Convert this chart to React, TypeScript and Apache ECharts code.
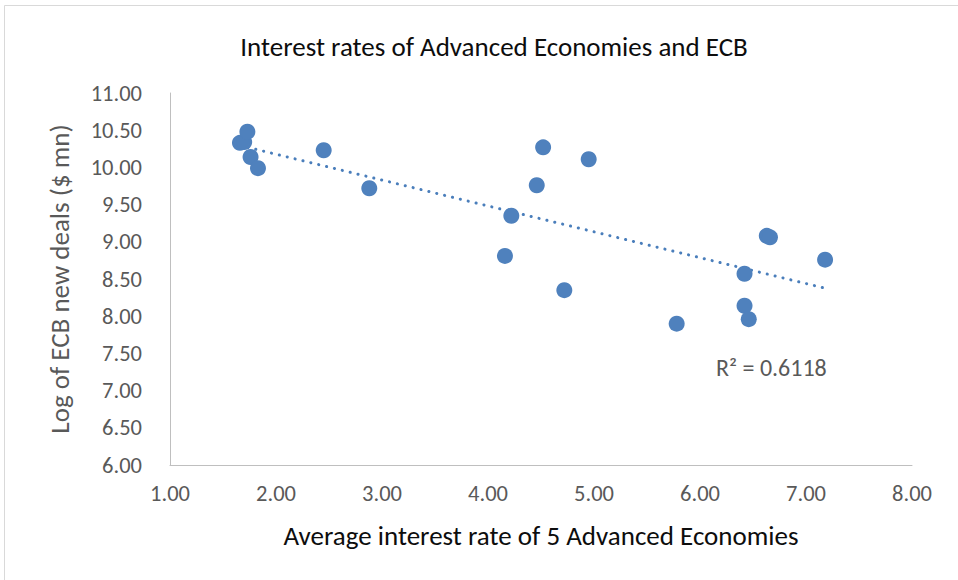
import React, { useEffect, useRef } from "react";
import * as echarts from "echarts";

const xValues = [1.66, 1.70, 1.73, 1.76, 1.83, 2.45, 2.88, 4.52, 4.95, 4.46, 4.22, 4.16, 4.72, 5.78, 6.42, 6.42, 6.46, 6.63, 6.66, 7.18];
const yValues = [10.33, 10.34, 10.48, 10.14, 9.99, 10.23, 9.72, 10.27, 10.11, 9.76, 9.35, 8.81, 8.35, 7.90, 8.57, 8.14, 7.96, 9.08, 9.06, 8.76];
const rSquaredLabel = "R² = 0.6118";
const chartTitle = "Interest rates of Advanced Economies and ECB";
const xAxisTitle = "Average interest rate of 5 Advanced Economies";
const yAxisTitle = "Log of ECB new deals ($ mn)";

const FONT = "Carlito, 'Liberation Sans Narrow', 'Open Sans', sans-serif";

function regression(xs: number[], ys: number[]) {
  const n = xs.length;
  const mx = xs.reduce((a, b) => a + b, 0) / n;
  const my = ys.reduce((a, b) => a + b, 0) / n;
  let sxy = 0, sxx = 0;
  for (let i = 0; i < n; i++) {
    sxy += (xs[i] - mx) * (ys[i] - my);
    sxx += (xs[i] - mx) * (xs[i] - mx);
  }
  const slope = sxy / sxx;
  return { slope, intercept: my - slope * mx };
}

export default function App() {
  const ref = useRef<HTMLDivElement>(null);
  useEffect(() => {
    if (!ref.current) return;
    const chart = echarts.init(ref.current, undefined, { renderer: "svg" });
    const { slope, intercept } = regression(xValues, yValues);
    const xmin = Math.min(...xValues);
    const xmax = Math.max(...xValues);
    const trend = [
      [xmin, intercept + slope * xmin],
      [xmax, intercept + slope * xmax],
    ];
    chart.setOption({
      animation: false,
      backgroundColor: "#ffffff",
      title: {
        text: chartTitle,
        left: 489,
        textAlign: "center",
        top: 28,
        textStyle: { fontFamily: FONT, fontSize: 27, fontWeight: "normal", color: "#0d0d0d" },
      },
      graphic: [
        {
          type: "rect",
          shape: { x: 4.5, y: 5.5, width: 1000, height: 1000 },
          style: { fill: "none", stroke: "#d9d9d9", lineWidth: 1 },
          silent: true,
        },
        {
          type: "text",
          left: 716,
          top: 355,
          style: { text: rSquaredLabel, fontFamily: FONT, fontSize: 24, fill: "#595959" },
        },
      ],
      grid: { left: 170, right: 46, top: 93, bottom: 115, containLabel: false },
      xAxis: {
        type: "value",
        min: 1,
        max: 8,
        interval: 1,
        name: xAxisTitle,
        nameLocation: "middle",
        nameGap: 57,
        nameTextStyle: { fontFamily: FONT, fontSize: 27, color: "#0d0d0d" },
        axisLine: { show: true, lineStyle: { color: "#bfbfbf", width: 1 } },
        axisTick: { show: false },
        splitLine: { show: false },
        axisLabel: {
          formatter: (v: number) => v.toFixed(2),
          fontFamily: FONT,
          fontSize: 22.5,
          color: "#595959",
          margin: 17,
        },
      },
      yAxis: {
        type: "value",
        min: 6,
        max: 11,
        interval: 0.5,
        name: yAxisTitle,
        nameLocation: "middle",
        nameGap: 97,
        nameTextStyle: { fontFamily: FONT, fontSize: 27, color: "#595959" },
        axisLine: { show: true, lineStyle: { color: "#bfbfbf", width: 1 } },
        axisTick: { show: false },
        splitLine: { show: false },
        axisLabel: {
          formatter: (v: number) => v.toFixed(2),
          fontFamily: FONT,
          fontSize: 22.5,
          color: "#595959",
          margin: 28,
        },
      },
      series: [
        {
          type: "line",
          data: trend,
          showSymbol: false,
          symbol: "none",
          lineStyle: { color: "#4a7ebb", width: 3, type: [0.1, 8], cap: "round" },
          z: 1,
          silent: true,
        },
        {
          type: "scatter",
          data: xValues.map((x, i) => [x, yValues[i]]),
          symbol: "circle",
          symbolSize: 16,
          itemStyle: { color: "#4f81bd", opacity: 1 },
          z: 2,
        },
      ],
    });
    return () => chart.dispose();
  }, []);
  return (
    <div
      ref={ref}
      style={{ position: "fixed", left: 0, top: 0, width: 958, height: 580 }}
    />
  );
}
